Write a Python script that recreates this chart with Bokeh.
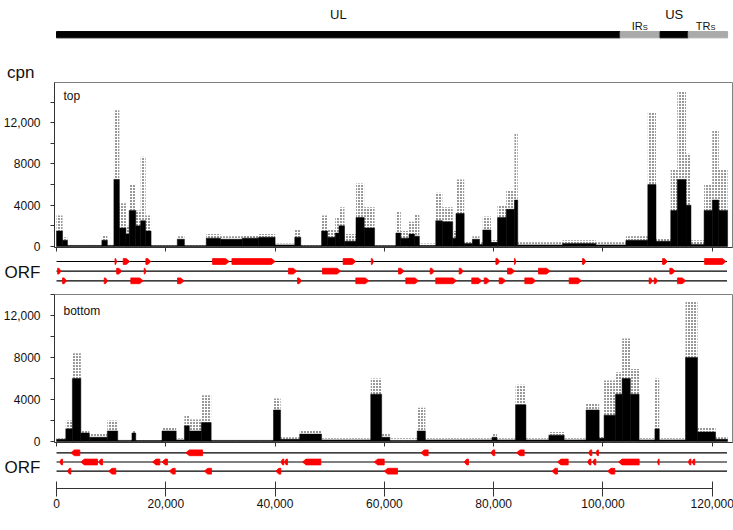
from bokeh.plotting import figure
from bokeh.layouts import column
from bokeh.models import Range1d, FixedTicker, Label, LinearAxis
from bokeh.embed import file_html
from bokeh.resources import INLINE
from bokeh.core.properties import value

FONT = "Liberation Sans"

# ---------------- data ----------------
region_names = ["UL", "IRS", "US", "TRS"]
region_start = [0, 103150, 110450, 115600]
region_end = [103150, 110450, 115600, 122800]
region_color = ["black", "#aaaaaa", "black", "#aaaaaa"]
genome_length = 122700

x_ticks = [0, 20000, 40000, 60000, 80000, 100000, 120000]
x_tick_labels = ["0", "20,000", "40,000", "60,000", "80,000", "100,000", "120,000"]
y_ticks = [0, 2000, 4000, 6000, 8000, 10000, 12000, 14000]
y_tick_labels = ["0", "", "4000", "", "8000", "", "12,000", ""]

# top strand coverage: segment start/end (nt), dense level and max (cpn)
top_start = [0, 1100, 2000, 8300, 9300, 10500, 11500, 12700, 13300, 14500, 15400, 16300,
             17300, 22100, 23400, 27400, 30000, 34000, 37000, 40000, 43600, 44700, 48500,
             49600, 51000, 51700, 52700, 54800, 56300, 58200, 62100, 63000, 64500, 65500,
             66400, 69400, 70600, 72500, 73100, 74600, 76100, 77400, 78000, 79500, 80700,
             82300, 83800, 84400, 92600, 98700, 104200, 108200, 109700, 112400, 113600,
             115200, 116100, 118500, 120000, 121200]
top_end = top_start[1:] + [122800]
top_dense = [1500, 600, 100, 600, 100, 6500, 1800, 1200, 3500, 2000, 2500, 1500,
             80, 700, 80, 800, 700, 800, 900, 150, 900, 80, 1500,
             900, 1300, 2000, 500, 2800, 1800, 80, 1300, 800, 1200, 1000,
             100, 2500, 2400, 800, 3200, 300, 700, 200, 1600, 400, 2800,
             3600, 4500, 150, 300, 150, 600, 6000, 500, 3500, 6500,
             4000, 200, 3500, 4500, 3500]
top_max = [3000, 900, 200, 1100, 200, 13200, 4200, 2000, 6000, 3500, 8700, 3000,
           200, 1000, 200, 1200, 1000, 1100, 1200, 300, 1600, 200, 3000,
           1600, 2800, 3800, 1200, 6100, 3800, 200, 3400, 1500, 2400, 3100,
           300, 5200, 3800, 1500, 6500, 500, 1000, 400, 2900, 600, 4000,
           5400, 11000, 400, 600, 400, 1000, 13000, 800, 7500, 15000,
           9000, 600, 6000, 11200, 7500]

# bottom strand coverage
bot_start = [0, 1700, 2900, 4450, 6000, 9300, 11200, 13800, 14500, 19300, 21900, 23400,
             24300, 26500, 28300, 39700, 41000, 44500, 48500, 57500, 59500, 61000, 66000,
             67500, 79700, 80600, 84000, 85900, 90100, 92900, 96900, 99300, 100200, 102300,
             103500, 105000, 106600, 109500, 110300, 115100, 117300, 120600]
bot_end = bot_start[1:] + [122800]
bot_dense = [200, 1200, 6000, 800, 400, 1000, 100, 800, 80, 1000, 150, 1500,
             1000, 1800, 100, 3000, 200, 700, 150, 4500, 400, 100, 1000,
             150, 400, 150, 3500, 150, 600, 150, 3000, 300, 2500, 4500,
             6000, 4500, 150, 1200, 150, 8000, 900, 200]
bot_max = [300, 2000, 8400, 1100, 700, 2000, 200, 1000, 150, 1300, 300, 2500,
           2100, 4400, 200, 4100, 400, 1100, 300, 6000, 700, 300, 3200,
           300, 800, 300, 5400, 300, 900, 300, 3600, 500, 5800, 6600,
           9800, 6900, 300, 6000, 300, 13300, 1300, 400]

# ORFs (start, end, track); top tracks point right, bottom tracks point left
orf_top_start = [10700, 12200, 16350, 28550, 32100, 52450, 57600, 80400, 83800, 96250, 110900, 118600,
                 200, 11000, 16050, 42450, 48670, 62580, 68380, 73680, 82530, 88200, 112230,
                 1100, 8730, 13600, 22140, 44100, 54770, 63920, 69400, 75990, 78260, 81000,
                 85690, 93810, 108450, 109370, 113630]
orf_top_end = [11000, 13400, 17250, 31600, 40000, 54770, 58000, 81100, 84050, 96850, 111800, 122500,
               800, 11950, 16350, 43970, 52000, 63620, 69110, 74420, 83860, 90330, 113200,
               1830, 9330, 15860, 23360, 44830, 57150, 66240, 73190, 77820, 79290, 82220,
               87700, 96070, 109060, 109980, 115150]
orf_top_track = [1] * 12 + [2] * 11 + [3] * 16

orf_bot_start = [2620, 23660, 66660, 79470, 84170, 97350, 98680,
                 600, 4450, 7700, 17570, 19300, 41050, 41700, 45010, 58130, 74600, 91670, 97170,
                 98100, 102840, 109970, 115590, 116300,
                 2010, 9510, 20620, 27030, 40130, 59960, 90640, 100820]
orf_bot_end = [4260, 26720, 68000, 80200, 85580, 97960, 99180,
               1100, 7500, 8420, 18900, 20310, 41600, 42270, 48370, 59960, 75390, 93630, 97800,
               98690, 106620, 110280, 116100, 116800,
               2620, 10850, 21720, 28360, 41050, 62400, 91670, 102160]
orf_bot_track = [1] * 7 + [2] * 17 + [3] * 8

# ---------------- layout constants ----------------
FW = 678
BL = 52
BR = 3
XR = (-370, 123700)


def base_fig(frame_h, yr, top=0, bottom=0):
    p = figure(frame_width=FW, frame_height=frame_h, min_border_left=BL, min_border_right=BR,
               min_border_top=top, min_border_bottom=bottom,
               x_range=Range1d(*XR), y_range=yr, output_backend="svg",
               toolbar_location=None, tools="", x_axis_location=None, y_axis_location=None)
    p.grid.visible = False
    p.outline_line_color = None
    p.background_fill_color = "white"
    p.border_fill_color = "white"
    return p


def add_label(p, x, y, text, size, align="left"):
    p.add_layout(Label(x=x, y=y, x_units="screen", y_units="screen", text=text,
                       text_align=align, text_baseline="alphabetic",
                       text_font=FONT, text_font_size=size, text_color="#111"))


def text_axis(p, pos, text, size, standoff):
    la = LinearAxis(ticker=FixedTicker(ticks=[pos]), major_label_overrides={pos: text})
    la.axis_line_color = None
    la.major_tick_line_color = None
    la.minor_tick_line_color = None
    la.major_tick_out = 0
    la.major_tick_in = 0
    la.major_label_standoff = standoff
    la.major_label_text_font = FONT
    la.major_label_text_font_size = size
    la.major_label_text_color = "#111"
    p.add_layout(la, "left")


# ---------------- header (genome structure + "cpn" unit label) ----------------
hdr = base_fig(82, Range1d(0, 82))
hdr.hbar(y=47.8, left=region_start, right=region_end, height=6.3, color=region_color)
mids = [(s + e) / 2 for s, e in zip(region_start, region_end)]
main_x = [m for m, n in zip(mids, region_names) if len(n) == 2]
main_t = [n for n in region_names if len(n) == 2]
sub_x = [m for m, n in zip(mids, region_names) if len(n) > 2]
sub_main = [n[:2] for n in region_names if len(n) > 2]
sub_t = [n[2:] for n in region_names if len(n) > 2]
hdr.text(x=main_x, y=68.5, text=main_t, text_align="center", text_baseline="alphabetic",
         text_font=value(FONT), text_font_size="13px", text_color="#111")
hdr.text(x=sub_x, y=57, text=sub_main, text_align="right", text_baseline="alphabetic", x_offset=2.5,
         text_font=value(FONT), text_font_size="11px", text_color="#111")
hdr.text(x=sub_x, y=55, text=sub_t, text_align="left", text_baseline="alphabetic", x_offset=2.5,
         text_font=value(FONT), text_font_size="7.5px", text_color="#111")
text_axis(hdr, 8.5, "cpn", "17px", 20)


def cpn_fig(frame_h, y_end, top_border, s, e, dense, mx, name, name_y):
    p = base_fig(frame_h, Range1d(-100, y_end), top=top_border, bottom=6)
    p.outline_line_color = "#808080"
    ya = LinearAxis(ticker=FixedTicker(ticks=y_ticks),
                    major_label_overrides={t: l for t, l in zip(y_ticks, y_tick_labels)})
    ya.major_tick_out = 4
    ya.major_tick_in = 0
    ya.minor_tick_out = 0
    ya.major_label_standoff = 10
    ya.major_label_text_font = FONT
    ya.major_label_text_font_size = "12px"
    ya.major_label_text_color = "#111"
    ya.axis_line_color = "#333"
    ya.major_tick_line_color = "#333"
    p.add_layout(ya, "left")
    xa = LinearAxis(ticker=FixedTicker(ticks=x_ticks),
                    major_label_overrides={t: "" for t in x_ticks})
    xa.major_tick_out = 4
    xa.major_tick_in = 0
    xa.minor_tick_out = 0
    xa.major_label_standoff = 0
    xa.major_label_text_font_size = "1px"
    xa.axis_line_color = "#333"
    xa.major_tick_line_color = "#333"
    p.add_layout(xa, "below")
    p.quad(left=s, right=e, bottom=dense, top=mx, fill_color=None, line_color=None,
           hatch_pattern="dot", hatch_color="black", hatch_scale=3, hatch_weight=1.7)
    p.quad(left=s, right=e, bottom=0, top=dense, fill_color="black", line_color="black", line_width=0.5)
    add_label(p, 9, name_y, name, "12px")
    return p


top = cpn_fig(165, 15900, 0, top_start, top_end, top_dense, top_max, "top", 152)
bot = cpn_fig(148, 14000, 5, bot_start, bot_end, bot_dense, bot_max, "bottom", 132)


def orf_fig(frame_h, p1_off, p3_off, starts, ends, tracks, strand, bottom_border, label_pos):
    s_px = (p3_off - p1_off) / 2.0
    yr = Range1d(3 + (frame_h - p3_off) / s_px, 1 - p1_off / s_px)
    p = base_fig(frame_h, yr, bottom=bottom_border)
    p.segment(x0=0, x1=genome_length, y0=[1, 2, 3], y1=[1, 2, 3], line_color="black", line_width=1.2)
    hh = 2.9 / s_px
    tip = 650
    xs, ys = [], []
    for a, b, t in zip(starts, ends, tracks):
        tp = min(tip, (b - a) * 0.6)
        if strand > 0:
            xs.append([a, b - tp, b, b - tp, a])
        else:
            xs.append([b, a + tp, a, a + tp, b])
        ys.append([t - hh, t - hh, t, t + hh, t + hh])
    p.patches(xs=xs, ys=ys, fill_color="#ff0000", line_color="#ff0000", line_width=0.8)
    text_axis(p, label_pos, "ORF", "17px", 14)
    return p


orf1 = orf_fig(36, 8, 27.3, orf_top_start, orf_top_end, orf_top_track, 1, 0, 2.1)
orf2 = orf_fig(40, 4.3, 22.7, orf_bot_start, orf_bot_end, orf_bot_track, -1, 42, 2.55)

xa = LinearAxis(ticker=FixedTicker(ticks=x_ticks),
                major_label_overrides={t: l for t, l in zip(x_ticks, x_tick_labels)})
xa.bounds = (0, 120000)
xa.major_tick_in = 7
xa.major_tick_out = 8
xa.minor_tick_out = 0
xa.minor_tick_in = 0
xa.major_label_standoff = 2
xa.major_label_text_font = FONT
xa.major_label_text_font_size = "12px"
xa.major_label_text_color = "#111"
xa.axis_line_color = "#333"
xa.major_tick_line_color = "#333"
orf2.add_layout(xa, "below")
add_label(orf2, 333, -35, "nucleotide", "12px", align="center")

layout = column(hdr, top, orf1, bot, orf2, spacing=0)
open("out.html", "w").write(file_html(layout, INLINE))
